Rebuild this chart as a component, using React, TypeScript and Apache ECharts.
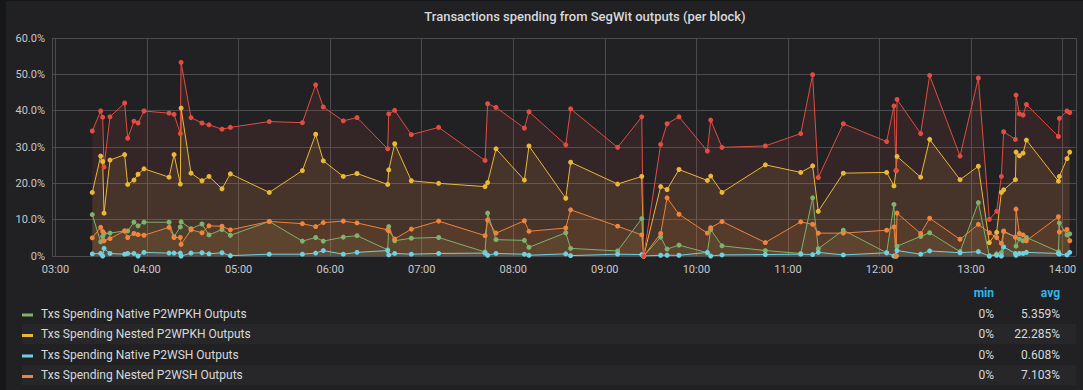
import React, { useEffect, useRef } from "react";
import * as echarts from "echarts";

const DAY = "2019-03-20T";
const xStart = "02:57:42";
const xEnd = "14:08:48";

const times = [
  "03:24:06", "03:29:36", "03:30:54", "03:31:48", "03:35:42", "03:45:18", "03:47:18", "03:51:24", "03:54:06", "03:58:00",
  "04:14:24", "04:17:42", "04:21:48", "04:22:18", "04:28:48", "04:36:00", "04:40:36", "04:49:06", "04:54:36", "05:20:06",
  "05:41:48", "05:50:30", "05:55:30", "06:08:36", "06:17:36", "06:37:42", "06:38:24", "06:42:18", "06:53:12", "07:11:06",
  "07:41:30", "07:43:12", "07:48:42", "08:07:18", "08:10:18", "08:34:24", "08:37:36", "09:08:24", "09:24:12", "09:25:30",
  "09:36:36", "09:40:48", "09:48:36", "10:07:12", "10:09:24", "10:16:48", "10:45:12", "11:08:24", "11:16:12", "11:19:54",
  "11:36:18", "12:04:42", "12:09:30", "12:10:54", "12:11:30", "12:27:00", "12:32:54", "12:52:48", "13:04:48", "13:12:00",
  "13:16:48", "13:19:54", "13:21:24", "13:29:06", "13:29:30", "13:31:42", "13:34:06", "13:36:18", "13:57:18", "13:57:54",
  "14:02:54", "14:04:42",
];

const nativeP2WPKH = [
  11.4, 3.9, 5.4, 6.2, 6.3, 6.9, 6.9, 9.3, 8.3, 9.3,
  9.3, 5.3, 8.0, 9.4, 7.5, 8.8, 5.8, 7.3, 5.7, 9.5,
  4.1, 5.1, 4.1, 5.2, 5.6, 1.7, 8.1, 4.2, 4.9, 5.1,
  1.1, 11.8, 4.5, 4.3, 2.4, 6.4, 2.1, 1.4, 10.3, 0,
  5.2, 1.9, 3.0, 0.9, 7.3, 2.8, 1.5, 0.7, 16.0, 2.0,
  7.1, 0.9, 14.2, 0, 2.7, 5.4, 6.4, 1.2, 14.7, 0,
  0.6, 0.9, 6.7, 5.2, 2.7, 4.7, 4.2, 5.1, 1.2, 9.1,
  5.8, 6.1,
];

const nestedP2WPKH = [
  17.5, 27.5, 26.0, 11.8, 26.4, 27.9, 19.7, 20.9, 22.5, 24.0,
  21.7, 27.9, 19.8, 40.7, 22.8, 20.7, 21.9, 18.5, 22.6, 17.5,
  23.5, 33.5, 26.2, 21.9, 22.7, 19.7, 23.7, 30.9, 20.7, 20.0,
  19.1, 20.2, 29.5, 20.9, 30.3, 15.9, 25.8, 19.8, 21.9, 0,
  19.1, 18.3, 23.8, 20.8, 22.0, 17.5, 25.1, 23.0, 24.8, 12.3,
  22.8, 23.0, 19.3, 23.5, 27.4, 21.7, 32.1, 21.0, 24.7, 3.7,
  6.5, 17.5, 18.2, 21.0, 28.6, 27.6, 28.3, 31.9, 20.6, 21.9,
  26.8, 28.6,
];

const nativeP2WSH = [
  0.6, 0.7, 0, 2.1, 0.7, 0.5, 0.7, 0.7, 0, 1.0,
  0.8, 0.8, 0.8, 0, 0.8, 0.9, 0.6, 0.9, 0.1, 0.5,
  0.5, 0.8, 1.5, 0.5, 1.0, 1.5, 0.3, 0.7, 0.5, 0.7,
  0.8, 0.2, 0.7, 0.5, 0.2, 0.6, 0.1, 0.5, 0.4, 0,
  0.2, 0.2, 0.2, 1.0, 0, 0.3, 0.4, 0.5, 0.4, 1.0,
  0.3, 0.9, 0, 0, 1.5, 0.5, 1.4, 0.9, 1.2, 0,
  0.2, 0, 2.5, 0.7, 0.2, 0.7, 0.7, 1.0, 0.7, 0.5,
  0.3, 1.0,
];

const nestedP2WSH = [
  5.0, 7.9, 6.8, 4.2, 4.8, 6.9, 5.1, 6.2, 5.9, 5.7,
  7.9, 5.1, 5.1, 3.2, 7.2, 6.4, 8.3, 8.2, 7.2, 9.5,
  8.9, 8.1, 9.2, 9.6, 9.1, 7.2, 6.9, 4.7, 7.4, 9.6,
  5.6, 9.9, 6.3, 9.7, 6.8, 7.7, 12.7, 8.2, 5.8, 0,
  6.2, 16.0, 11.5, 6.3, 7.8, 9.5, 3.7, 9.4, 8.7, 6.3,
  6.3, 7.1, 8.0, 0, 11.8, 6.2, 10.4, 4.6, 8.7, 6.4,
  5.1, 3.5, 6.9, 5.2, 12.9, 6.2, 5.8, 4.2, 10.8, 6.6,
  7.3, 4.2,
];

const allSegwit = [
  34.4, 39.9, 38.2, 24.5, 38.3, 42.1, 32.4, 37.1, 36.6, 39.9,
  39.3, 39.0, 33.7, 53.3, 38.1, 36.6, 36.1, 34.9, 35.4, 37.0,
  36.7, 47.1, 41.0, 37.2, 38.1, 29.5, 39.1, 40.1, 33.4, 35.4,
  26.3, 41.9, 40.9, 35.2, 39.7, 30.6, 40.5, 29.9, 38.3, 0,
  30.7, 36.4, 38.3, 28.9, 37.4, 29.9, 30.3, 33.7, 49.9, 21.6,
  36.4, 31.5, 41.3, 23.5, 43.1, 33.7, 49.7, 27.5, 49.0, 10.1,
  12.3, 21.9, 34.2, 32.1, 44.3, 39.1, 38.8, 41.7, 32.9, 37.9,
  39.9, 39.5,
];

const chartTitle = "Transactions spending from SegWit outputs (per block)";
const legendNames = [
  "Txs Spending Native P2WPKH Outputs",
  "Txs Spending Nested P2WPKH Outputs",
  "Txs Spending Native P2WSH Outputs",
  "Txs Spending Nested P2WSH Outputs",
];
const legendColors = ["#7eb26d", "#eab839", "#6ed0e0", "#ef843c"];
const legendMin = ["0%", "0%", "0%", "0%"];
const legendAvg = ["5.359%", "22.285%", "0.608%", "7.103%"];
const totalName = "Txs Spending SegWit Outputs";
const totalColor = "#e24d42";

const FONT = "Roboto, 'Noto Sans', sans-serif";

const ts = (t: string) => Date.parse(DAY + t + "Z");

export default function App() {
  const ref = useRef<HTMLDivElement>(null);

  useEffect(() => {
    document.body.style.margin = "0";
    if (!ref.current) return;
    const chart = echarts.init(ref.current, null, { renderer: "svg" });

    const mk = (name: string, values: number[], color: string) => ({
      name,
      type: "line",
      data: values.map((v, i) => [ts(times[i]), v]),
      showSymbol: true,
      symbol: "circle",
      symbolSize: 5,
      lineStyle: { width: 1, color },
      itemStyle: { color },
      areaStyle: { color, opacity: 0.1 },
      emphasis: { disabled: true },
      silent: true,
      animation: false,
    });

    const rowsY = [313.5, 334, 354.5, 375];
    const graphics: any[] = [];
    graphics.push({
      type: "text",
      style: { text: chartTitle, x: 585, y: 16, fill: "#d8d9da", font: `500 13px ${FONT}`, textAlign: "center", textVerticalAlign: "middle" },
    });
    rowsY.forEach((y, i) => {
      if (i % 2 === 1) {
        graphics.push({
          type: "rect",
          shape: { x: 22, y: y - 10, width: 1054, height: 20 },
          style: { fill: "#27272a" },
          silent: true,
        });
      }
    });
    graphics.push({
      type: "text",
      style: { text: "min", x: 994, y: 293, fill: "#33b5e5", font: `bold 12px ${FONT}`, textAlign: "right", textVerticalAlign: "middle" },
    });
    graphics.push({
      type: "text",
      style: { text: "avg", x: 1060, y: 293, fill: "#33b5e5", font: `bold 12px ${FONT}`, textAlign: "right", textVerticalAlign: "middle" },
    });
    rowsY.forEach((y, i) => {
      graphics.push({
        type: "rect",
        shape: { x: 22, y: y, width: 11, height: 3 },
        style: { fill: legendColors[i] },
      });
      graphics.push({
        type: "text",
        style: { text: legendNames[i], x: 41, y: y, fill: "#d8d9da", font: `12px ${FONT}`, textAlign: "left", textVerticalAlign: "middle" },
      });
      graphics.push({
        type: "text",
        style: { text: legendMin[i], x: 994, y: y, fill: "#d8d9da", font: `12px ${FONT}`, textAlign: "right", textVerticalAlign: "middle" },
      });
      graphics.push({
        type: "text",
        style: { text: legendAvg[i], x: 1060, y: y, fill: "#d8d9da", font: `12px ${FONT}`, textAlign: "right", textVerticalAlign: "middle" },
      });
    });

    chart.setOption({
      animation: false,
      useUTC: true,
      backgroundColor: "transparent",
      textStyle: { fontFamily: FONT },
      grid: { left: 52, top: 38, width: 1024, height: 218, containLabel: false },
      xAxis: {
        type: "time",
        min: ts(xStart),
        max: ts(xEnd),
        minInterval: 3600 * 1000,
        maxInterval: 3600 * 1000,
        axisLine: { show: false },
        axisTick: { show: false },
        axisLabel: { formatter: "{HH}:{mm}", color: "#c8c9ca", fontSize: 11, margin: 8, fontFamily: FONT },
        splitLine: { show: true, lineStyle: { color: "#4b4b4e", width: 1 } },
      },
      yAxis: {
        type: "value",
        min: 0,
        max: 60,
        interval: 10,
        axisLine: { show: false },
        axisTick: { show: false },
        axisLabel: {
          formatter: (v: number) => (v === 0 ? "0%" : v.toFixed(1) + "%"),
          color: "#c8c9ca",
          fontSize: 11,
          margin: 7,
          fontFamily: FONT,
        },
        splitLine: { show: true, lineStyle: { color: "#4b4b4e", width: 1 } },
      },
      series: [
        mk(legendNames[0], nativeP2WPKH, legendColors[0]),
        mk(legendNames[1], nestedP2WPKH, legendColors[1]),
        mk(legendNames[2], nativeP2WSH, legendColors[2]),
        mk(legendNames[3], nestedP2WSH, legendColors[3]),
        mk(totalName, allSegwit, totalColor),
      ],
      graphic: graphics,
    });

    return () => chart.dispose();
  }, []);

  return (
    <div
      ref={ref}
      style={{
        width: 1083,
        height: 390,
        background: "#212124",
        boxShadow: "inset 6px 1px 0 #161719",
      }}
    />
  );
}
